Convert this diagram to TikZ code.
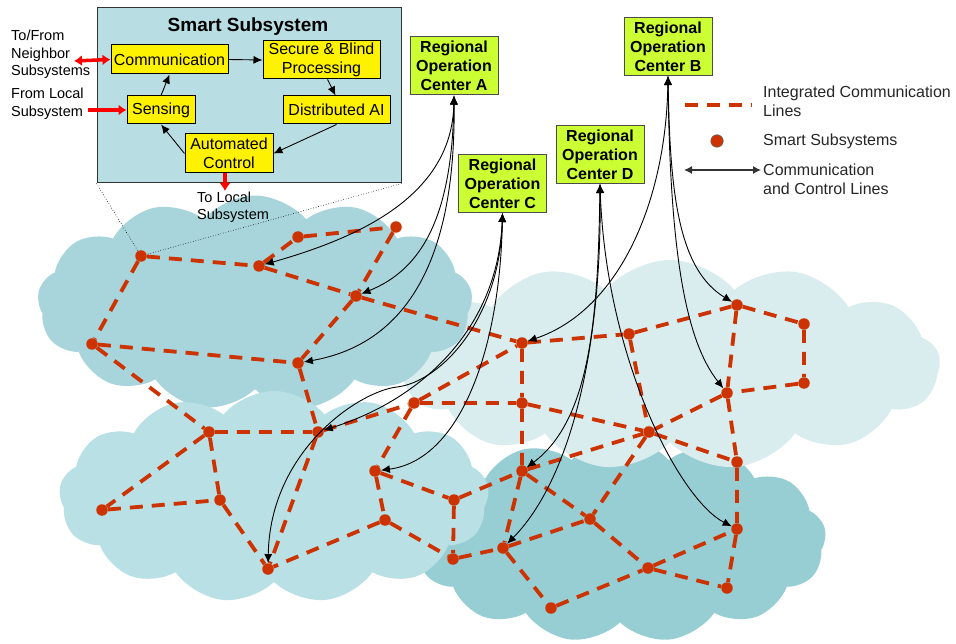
\documentclass[tikz,border=0pt]{standalone}
\usepackage{fontspec}
\setmainfont{Liberation Sans}
\usetikzlibrary{shapes.symbols,arrows.meta,positioning}

\definecolor{comred}{RGB}{204,51,0}
\definecolor{rocgreen}{RGB}{204,255,51}
\definecolor{insetbg}{RGB}{184,222,228}
\definecolor{cloudtl}{RGB}{167,213,219}
\definecolor{cloudr}{RGB}{217,236,238}
\definecolor{cloudbl}{RGB}{185,225,229}
\definecolor{cloudbr}{RGB}{150,206,212}

\begin{document}
\begin{tikzpicture}[x=1pt,y=-1pt,
    cloudbg/.style={cloud, cloud puffs=13, cloud puff arc=100, cloud ignores aspect, inner sep=0pt},
    subsys/.style={circle, fill=comred, inner sep=0pt, minimum size=11.5pt},
    comline/.style={comred, line width=3.8pt, dash pattern=on 13pt off 9pt},
    ctrl/.style={black, line width=0.9pt, {Latex[length=9pt,width=8pt]}-{Latex[length=9pt,width=8pt]}},
    roc/.style={draw=black!70, line width=1pt, fill=rocgreen, align=center,
        font=\fontsize{16}{19}\selectfont\bfseries, minimum width=88pt, minimum height=58pt, inner sep=1pt},
    func/.style={draw=black, line width=1pt, fill=yellow, align=center,
        font=\fontsize{16}{19}\selectfont, inner sep=1pt},
    arr/.style={black, line width=0.9pt, -{Latex[length=9pt,width=8pt]}},
    feed/.style={red, line width=3.5pt, -{Latex[length=8pt,width=11pt]}},
    side/.style={align=left, anchor=west, font=\fontsize{14.5}{17.5}\selectfont, inner sep=0pt}]

    \useasboundingbox (0,0) rectangle (956,644);

    % Clouds
    \node[cloudbg, fill=cloudbr, minimum width=412pt, minimum height=205pt] (cloudbr) at (620,540) {};
    \node[cloudbg, fill=cloudr, minimum width=540pt, minimum height=210pt] (cloudr) at (670,365) {};
    \node[cloudbg, fill=cloudtl, minimum width=435pt, minimum height=215pt] (cloudtl) at (255,303) {};
    \node[cloudbg, fill=cloudbl, minimum width=430pt, minimum height=212pt] (cloudbl) at (274,497) {};

    % Smart subsystems
    \node[subsys] (n1) at (141,256) {};
    \node[subsys] (n2) at (259,266) {};
    \node[subsys] (n3) at (298,237) {};
    \node[subsys] (n4) at (396,227) {};
    \node[subsys] (n5) at (356,296) {};
    \node[subsys] (n6) at (92,344) {};
    \node[subsys] (n7) at (298,363) {};
    \node[subsys] (n8) at (209,432) {};
    \node[subsys] (n9) at (318,432) {};
    \node[subsys] (n10) at (102,510) {};
    \node[subsys] (n11) at (220,500) {};
    \node[subsys] (n12) at (268,569) {};
    \node[subsys] (n13) at (414,403) {};
    \node[subsys] (n14) at (375,471) {};
    \node[subsys] (n15) at (385,520) {};
    \node[subsys] (n16) at (454,500) {};
    \node[subsys] (n17) at (522,343) {};
    \node[subsys] (n18) at (522,403) {};
    \node[subsys] (n19) at (522,471) {};
    \node[subsys] (n20) at (629,334) {};
    \node[subsys] (n21) at (649,432) {};
    \node[subsys] (n22) at (737,305) {};
    \node[subsys] (n23) at (804,324) {};
    \node[subsys] (n24) at (804,383) {};
    \node[subsys] (n25) at (727,393) {};
    \node[subsys] (n26) at (737,462) {};
    \node[subsys] (n27) at (737,529) {};
    \node[subsys] (n28) at (727,588) {};
    \node[subsys] (n29) at (648,568) {};
    \node[subsys] (n30) at (590,519) {};
    \node[subsys] (n31) at (503,548) {};
    \node[subsys] (n32) at (453,559) {};
    \node[subsys] (n33) at (551,608) {};

    % Integrated communication lines
    \draw[comline] (n1) -- (n2) (n2) -- (n3) (n3) -- (n4) (n4) -- (n5) (n2) -- (n5)
        (n1) -- (n6) (n6) -- (n7) (n5) -- (n7) (n5) -- (n17);
    \draw[comline] (n6) -- (n8) (n7) -- (n9) (n8) -- (n9) (n8) -- (n10) (n8) -- (n11)
        (n10) -- (n11) (n11) -- (n12) (n9) -- (n12) (n9) -- (n13);
    \draw[comline] (n13) -- (n17) (n13) -- (n18) (n13) -- (n14) (n14) -- (n16) (n14) -- (n15)
        (n15) -- (n12) (n15) -- (n32) (n16) -- (n32) (n32) -- (n31) (n16) -- (n19);
    \draw[comline] (n17) -- (n20) (n20) -- (n22) (n22) -- (n23) (n23) -- (n24) (n24) -- (n25)
        (n22) -- (n25) (n25) -- (n26) (n20) -- (n21) (n25) -- (n21) (n18) -- (n21)
        (n21) -- (n26) (n17) -- (n18) (n18) -- (n19) (n19) -- (n21) (n21) -- (n30);
    \draw[comline] (n19) -- (n31) (n19) -- (n30) (n31) -- (n30) (n30) -- (n29) (n29) -- (n27)
        (n29) -- (n28) (n27) -- (n28) (n26) -- (n27) (n31) -- (n33) (n33) -- (n29);

    % Regional operation centers
    \node[roc] (rocA) at (454,66) {Regional\\Operation\\Center A};
    \node[roc] (rocB) at (668,46.5) {Regional\\Operation\\Center B};
    \node[roc] (rocC) at (502.5,183.5) {Regional\\Operation\\Center C};
    \node[roc] (rocD) at (600,154.5) {Regional\\Operation\\Center D};

    % Communication and control lines
    \draw[ctrl] (rocA.south) .. controls (452,200) and (350,240) .. (n2);
    \draw[ctrl] (rocA.south) .. controls (452,220) and (420,270) .. (n5);
    \draw[ctrl] (rocA.south) .. controls (456,270) and (400,345) .. (n7);
    \draw[ctrl] (rocC.south) .. controls (498,330) and (420,400) .. (n9);
    \draw[ctrl] (rocC.south) .. controls (500,320) and (440,382) .. (397,387)
        .. controls (360,391) and (270,450) .. (n12);
    \draw[ctrl] (rocC.south) .. controls (500,350) and (460,460) .. (n14);
    \draw[ctrl] (rocD.south) .. controls (598,320) and (590,420) .. (n19);
    \draw[ctrl] (rocD.south) .. controls (602,350) and (570,480) .. (n31);
    \draw[ctrl] (rocD.south) .. controls (606,360) and (680,500) .. (n27);
    \draw[ctrl] (rocB.south) .. controls (666,200) and (620,310) .. (n17);
    \draw[ctrl] (rocB.south) .. controls (670,250) and (685,340) .. (n25);
    \draw[ctrl] (rocB.south) .. controls (670,200) and (680,270) .. (n22);

    % Smart subsystem inset
    \node[draw=black!80, line width=1pt, fill=insetbg, minimum width=304pt, minimum height=175pt, inner sep=0pt] (inset) at (249,95.5) {};
    \draw[black, line width=0.6pt, dotted] (inset.south west) -- (n1);
    \draw[black, line width=0.6pt, dotted] (inset.south east) -- (n1);
    \node[font=\fontsize{19}{22}\selectfont\bfseries] (title) at (248,27) {Smart Subsystem};

    \node[func, minimum width=117pt, minimum height=29pt] (comm) at (169.5,59.5) {Communication};
    \node[func, minimum width=117pt, minimum height=38pt] (secure) at (321.5,60) {Secure \& Blind\\Processing};
    \node[func, minimum width=68pt, minimum height=28pt] (sensing) at (161,110) {Sensing};
    \node[func, minimum width=107pt, minimum height=28pt] (distai) at (336.5,110) {Distributed AI};
    \node[func, minimum width=88pt, minimum height=39pt] (autoctl) at (229,153.5) {Automated\\Control};

    \draw[arr] (comm.east) -- (secure.west);
    \draw[arr] ([xshift=6pt]secure.south) -- ([xshift=-1pt]distai.north);
    \draw[arr] (distai.south) -- (autoctl.east);
    \draw[arr] (autoctl.west) -- (sensing.south);
    \draw[arr] (sensing.north) -- (comm.south);

    % Outside the inset
    \node[side] (nbr) at (11,54.5) {To/From\\Neighbor\\Subsystems};
    \node[side] (fromloc) at (11,104) {From Local\\Subsystem};
    \node[side] (toloc) at (197,207.5) {To Local\\Subsystem};
    \coordinate (nbrend) at (74,61);
    \coordinate (fromend) at (88,110);
    \coordinate (toend) at (225,191);
    \draw[feed, {Latex[length=8pt,width=11pt]}-{Latex[length=8pt,width=11pt]}] (nbrend) -- (comm.west);
    \draw[feed] (fromend) -- (sensing.west);
    \draw[feed] (autoctl.south -| toend) -- (toend);

    % Legend
    \coordinate (lgA) at (685,105);
    \coordinate (lgB) at (752,105);
    \draw[comline] (lgA) -- (lgB);
    \node[subsys, draw=black!60, line width=0.6pt, minimum size=12.5pt] (lgdot) at (717,141) {};
    \coordinate (lgC) at (684,170);
    \coordinate (lgD) at (761,170);
    \draw[black!80, line width=1.2pt, {Latex[length=8pt,width=8pt]}-{Latex[length=8pt,width=8pt]}] (lgC) -- (lgD);
    \node[anchor=west, align=left, inner sep=0pt, text=black!85, font=\fontsize{16}{19}\selectfont] (lgline) at (763,101.5) {Integrated Communication\\Lines};
    \node[anchor=west, inner sep=0pt, text=black!85, font=\fontsize{16}{19}\selectfont] (lgsub) at (763,141) {Smart Subsystems};
    \node[anchor=west, align=left, inner sep=0pt, text=black!85, font=\fontsize{16}{19}\selectfont] (lgctrl) at (763,179.5) {Communication\\and Control Lines};

\end{tikzpicture}
\end{document}
